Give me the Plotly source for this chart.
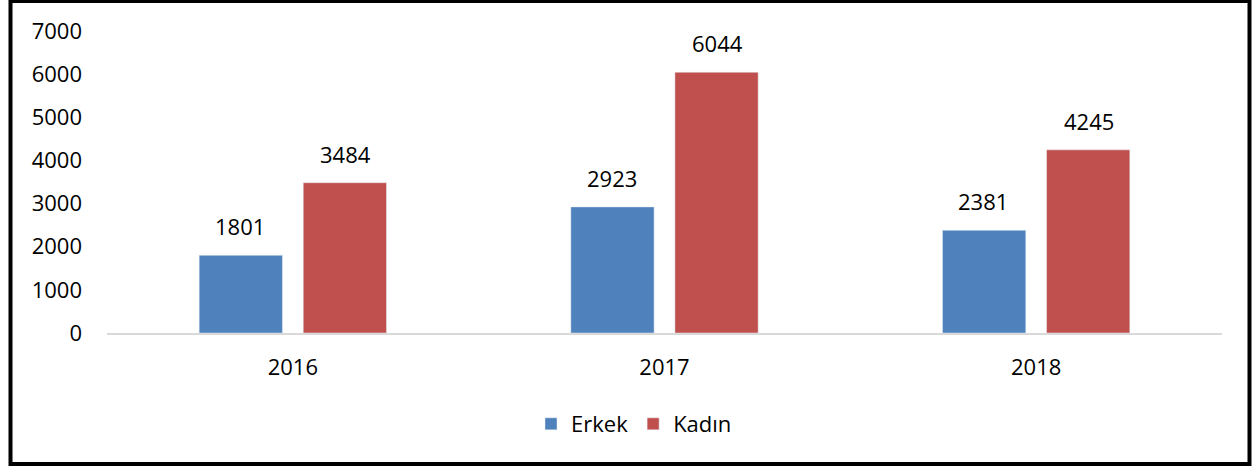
import plotly.graph_objects as go

years = ["2016", "2017", "2018"]
erkek = [1801, 2923, 2381]
kadin = [3484, 6044, 4245]
y_ticks = [0, 1000, 2000, 3000, 4000, 5000, 6000, 7000]

FONT = "Open Sans, Liberation Sans, sans-serif"
FS = 22

fig = go.Figure()
fig.add_trace(go.Bar(name="Erkek", x=years, y=erkek, marker_color="#4F81BD"))
fig.add_trace(go.Bar(name="Kadın", x=years, y=kadin, marker_color="#C0504D"))

W, H = 1254, 468
L, R, T, B = 107, 32, 31, 135
pw, ph = W - L - R, H - T - B

def px_x(p):
    return (p - L) / pw

def px_y(p):
    return (H - B - p) / ph

for series, shift in ((erkek, -53), (kadin, 53)):
    for i, v in enumerate(series):
        fig.add_annotation(x=i, y=v, xref="x", yref="y", text=str(v),
                           showarrow=False, xshift=shift, yshift=12,
                           yanchor="bottom", font=dict(size=FS, color="#000000"))

fig.update_layout(
    width=W, height=H,
    margin=dict(l=L, r=R, t=T, b=B),
    paper_bgcolor="white", plot_bgcolor="white",
    font=dict(family=FONT, size=FS, color="#000000"),
    barmode="group", bargap=0.44, bargroupgap=0.2,
    showlegend=True,
    legend=dict(orientation="h", x=px_x(634), xanchor="center", y=px_y(424), yanchor="middle",
                font=dict(size=FS), itemwidth=30, traceorder="normal"),
    xaxis=dict(type="category", categoryorder="array", categoryarray=years,
               showgrid=False, showline=True, linecolor="#D9D9D9", linewidth=2,
               ticks="", tickfont=dict(size=FS), ticklabelstandoff=14),
    yaxis=dict(range=[0, 7000], tickvals=y_ticks, showgrid=False, showline=False,
               zeroline=False, ticks="", tickfont=dict(size=FS), ticklabelstandoff=24),
    shapes=[dict(type="rect", xref="paper", yref="paper",
                 x0=px_x(10.5), x1=px_x(1249.5), y0=px_y(464), y1=px_y(1),
                 line=dict(color="#000000", width=4), fillcolor="rgba(0,0,0,0)", layer="above")],
)

fig.write_html("out.html", config={"displayModeBar": False},
               post_script="document.body.style.margin='0';document.body.style.overflow='hidden';")
